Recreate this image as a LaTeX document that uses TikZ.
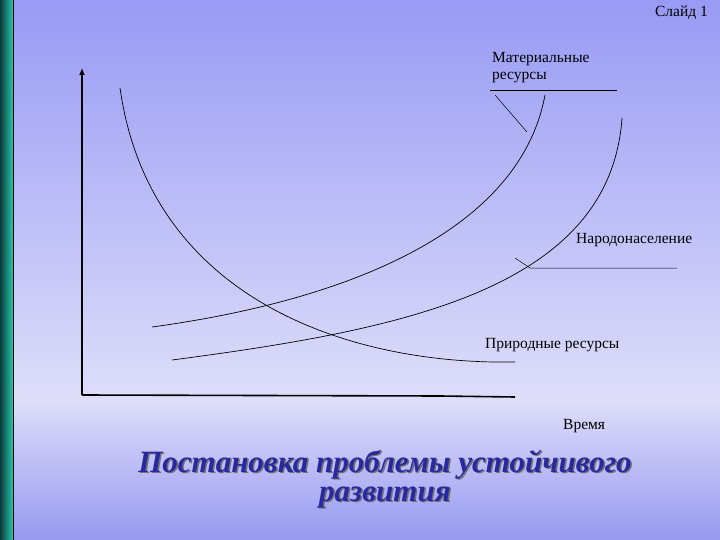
\documentclass[tikz,border=0pt]{standalone}
\usepackage{fontspec}
\setmainfont{Liberation Serif}
\newfontfamily\serf{Liberation Serif}
\usetikzlibrary{arrows.meta}
\newcommand{\shtext}[1]{\leavevmode\rlap{\kern1.5pt\raisebox{-1.5pt}{\textcolor{black!55}{#1}}}#1}
\begin{document}
\begin{tikzpicture}[x=1pt,y=-1pt,
  lbl/.style={font=\serf\fontsize{15.5}{17.5}\selectfont,inner sep=0pt,align=left},
  crv/.style={draw=black,line width=0.7pt},
  ttl/.style={font=\serf\fontsize{31}{33}\selectfont\bfseries\itshape,text={rgb,255:red,40;green,40;blue,160},inner sep=0pt}]
\useasboundingbox (0,0) rectangle (720,540);
\shade[top color={rgb,255:red,152;green,154;blue,244}, bottom color={rgb,255:red,222;green,222;blue,250}] (0,0) rectangle (720,400);
\shade[top color={rgb,255:red,222;green,222;blue,250}, bottom color={rgb,255:red,150;green,152;blue,240}] (0,400) rectangle (720,540);
\shade[left color={rgb,255:red,10;green,60;blue,60}, right color={rgb,255:red,40;green,200;blue,170}] (0,0) rectangle (13,540);
\draw[line width=1.2pt] (13.5,0) -- (13.5,540);
\node[anchor=north east,lbl] (sl) at (708,6) {Слайд 1};
% axes
\coordinate (o) at (82,395);
\coordinate (yt) at (82,68);
\coordinate (xe) at (515,397);
\draw[line width=1.6pt,-{Latex[length=7pt,width=6pt]}] (o) -- (yt);
\draw[line width=1.6pt] (o) -- (440,396) -- (xe);
% curves
\coordinate (n1) at (120,88);
\coordinate (n2) at (515,362);
\draw[crv] (n1) .. controls (150,300) and (350,365) .. (n2);
\coordinate (m1) at (152,327);
\coordinate (m2) at (545,95);
\draw[crv] (m1) .. controls (350,300) and (520,230) .. (m2);
\coordinate (p1) at (172,360);
\coordinate (p2) at (622,118);
\draw[crv] (p1) .. controls (400,330) and (610,290) .. (p2);
% labels
\node[lbl,anchor=north west] (mat) at (492,52) {Материальные\\ресурсы};
\coordinate (mu1) at (490,90);
\coordinate (mu2) at (617,90);
\coordinate (mc) at (527,132);
\draw[line width=0.5pt] (mu1) -- (mu2);
\draw[line width=0.5pt] (495,95) -- (mc);
\node[lbl,anchor=west] (pop) at (576,240) {Народонаселение};
\coordinate (pa) at (515,258);
\coordinate (pb) at (530,268);
\coordinate (pc) at (677,268);
\draw[line width=0.5pt] (pa) -- (pb) -- (pc);
\node[lbl,anchor=west] (nat) at (485,345) {Природные ресурсы};
\node[lbl,anchor=west] (tm) at (563,426) {Время};
% title
\node[ttl] (t1) at (385,465) {\shtext{Постановка проблемы устойчивого}};
\node[ttl] (t2) at (385,498) {\shtext{развития}};
\end{tikzpicture}
\end{document}
